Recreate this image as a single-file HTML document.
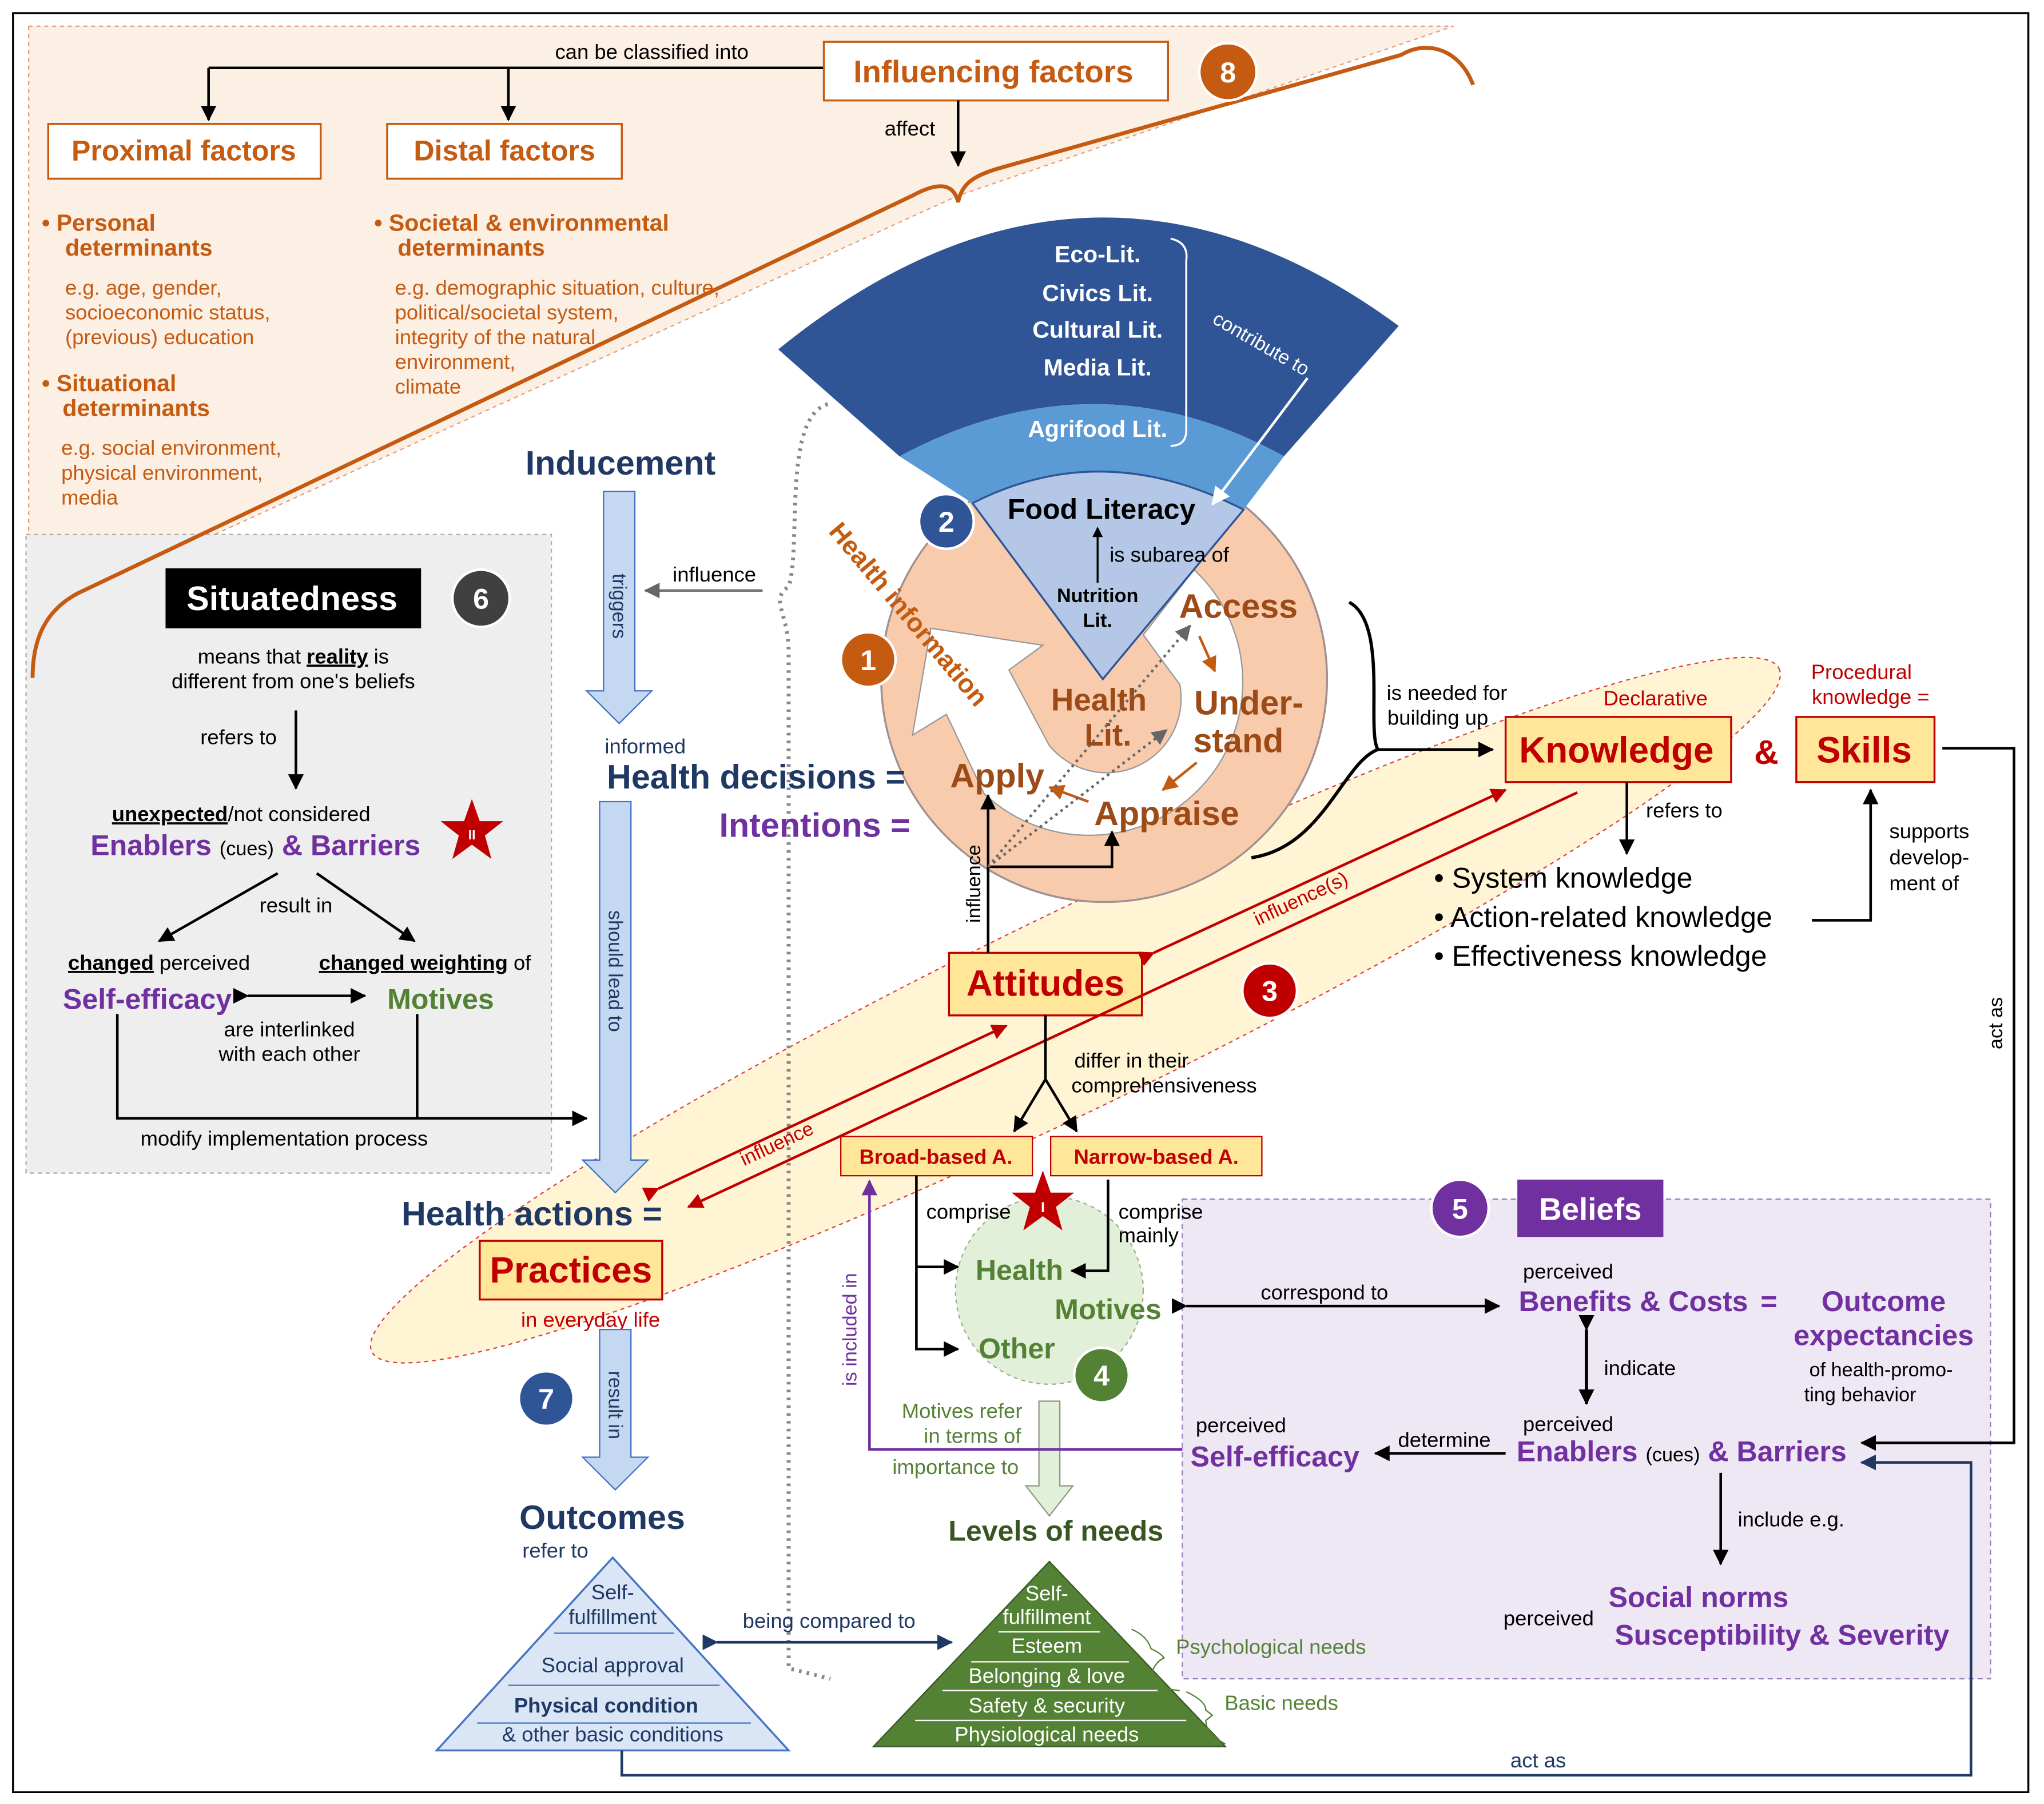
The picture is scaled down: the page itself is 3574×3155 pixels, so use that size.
<!DOCTYPE html>
<html><head><meta charset="utf-8">
<style>html,body{margin:0;padding:0;background:#fff}svg{display:block}</style></head>
<body>
<svg xmlns="http://www.w3.org/2000/svg" width="3574" height="3155" viewBox="0 0 1568 1384" font-family="Liberation Sans, sans-serif">
<defs>
<marker id="ak" markerWidth="8" markerHeight="8" refX="7" refY="4" orient="auto" markerUnits="userSpaceOnUse" viewBox="0 0 8 8"><path d="M0,0 L8,4 L0,8 Z" fill="#000"/></marker>
<marker id="ak2" markerWidth="12" markerHeight="12" refX="11" refY="6" orient="auto" markerUnits="userSpaceOnUse"><path d="M0,0 L12,6 L0,12 Z" fill="#000"/></marker>
<marker id="ar" markerWidth="12" markerHeight="12" refX="11" refY="6" orient="auto" markerUnits="userSpaceOnUse"><path d="M0,0 L12,6 L0,12 Z" fill="#c00000"/></marker>
<marker id="ao" markerWidth="12" markerHeight="12" refX="11" refY="6" orient="auto" markerUnits="userSpaceOnUse"><path d="M0,0 L12,6 L0,12 Z" fill="#c55a11"/></marker>
<marker id="ag" markerWidth="12" markerHeight="12" refX="11" refY="6" orient="auto" markerUnits="userSpaceOnUse"><path d="M0,0 L12,6 L0,12 Z" fill="#666"/></marker>
<marker id="aw" markerWidth="14" markerHeight="14" refX="13" refY="7" orient="auto" markerUnits="userSpaceOnUse"><path d="M0,0 L14,7 L0,14 Z" fill="#fff"/></marker>
<marker id="ap" markerWidth="12" markerHeight="12" refX="11" refY="6" orient="auto" markerUnits="userSpaceOnUse"><path d="M0,0 L12,6 L0,12 Z" fill="#7030a0"/></marker>
<marker id="ab" markerWidth="12" markerHeight="12" refX="11" refY="6" orient="auto" markerUnits="userSpaceOnUse"><path d="M0,0 L12,6 L0,12 Z" fill="#1f3864"/></marker>
</defs>
<rect x="10" y="10" width="1546" height="1365" fill="#fff" stroke="#000" stroke-width="1.5"/>
<polygon points="22,20 1115,20 735,150 22,475" fill="#fcefe4" stroke="#e0a080" stroke-dasharray="3,3"/>
<rect x="20" y="410" width="403" height="490" fill="#eeeeee" stroke="#aaa" stroke-dasharray="3,3"/>
<path d="M1130,65 C1120,38 1095,30 1075,42 L770,128 C748,134 738,140 735,155 C732,142 722,138 700,150 L60,455 C35,468 25,490 25,520" fill="none" stroke="#c55a11" stroke-width="3"/>
<rect x="907" y="920" width="620" height="368" fill="#eee7f4" stroke="#a080c0" stroke-dasharray="4,3"/>
<ellipse cx="825" cy="775" rx="600" ry="75" transform="rotate(-25.9 825 775)" fill="#fff2cc" fill-opacity="0.85" stroke="#e04040" stroke-dasharray="3,3"/>
<path d="M635,310 C600,320 615,420 605,450 C590,460 605,470 605,500 L605,1280 L637,1288" fill="none" stroke="#888" stroke-width="3" stroke-dasharray="2,4"/>
<!-- orange ring -->
<circle cx="847" cy="521" r="171" fill="#f8cbad" stroke="#a09090" stroke-width="1.5"/>
<path d="M916,437 A112,112 0 1 1 755,609 L726,548 L700,564 L714,482 L800,495 L774,514 L805,572 A57,57 0 0 0 905,525 L877,487 Z" fill="#fff" stroke="#999" stroke-width="1"/>
<!-- fan -->
<path d="M597,268 Q835,75 1073,250 L985,350 Q840,270 690,350 Z" fill="#2f5597"/>
<path d="M690,350 Q840,270 985,350 L954,391 Q846,335 746,386 Z" fill="#5b9bd5"/>
<path d="M746,386 Q846,335 954,391 L846,521 Z" fill="#b4c7e7" stroke="#2f5597" stroke-width="1.5"/>
<g fill="#fff" font-weight="bold" font-size="18" text-anchor="middle">
<text x="842" y="201">Eco-Lit.</text><text x="842" y="231">Civics Lit.</text><text x="842" y="259">Cultural Lit.</text><text x="842" y="288">Media Lit.</text><text x="842" y="335">Agrifood Lit.</text></g>
<path d="M898,183 Q912,186 910,200 L910,330 Q910,342 898,342" fill="none" stroke="#fff" stroke-width="1.5"/>
<text x="965" y="268" fill="#fff" font-size="15" text-anchor="middle" transform="rotate(30 965 268)">contribute to</text>
<line x1="1003" y1="290" x2="930" y2="387" stroke="#fff" stroke-width="2" marker-end="url(#aw)"/>
<text x="845" y="398" font-size="22" font-weight="bold" text-anchor="middle">Food Literacy</text>
<circle cx="726" cy="400" r="21" fill="#2f5597" stroke="#fff" stroke-width="2"/><text x="726" y="408" fill="#fff" font-size="22" font-weight="bold" text-anchor="middle">2</text>
<line x1="842" y1="447" x2="842" y2="405" stroke="#000" stroke-width="1.5" marker-end="url(#ak)"/>
<text x="897" y="431" font-size="16" text-anchor="middle">is subarea of</text>
<text x="842" y="462" font-size="15" font-weight="bold" text-anchor="middle">Nutrition</text><text x="842" y="481" font-size="15" font-weight="bold" text-anchor="middle">Lit.</text>
<text x="635" y="408" fill="#c55a11" font-size="20" font-weight="bold" transform="rotate(50 635 408)">Health information</text>
<circle cx="666" cy="506" r="21" fill="#c55a11" stroke="#fff" stroke-width="2"/><text x="666" y="514" fill="#fff" font-size="22" font-weight="bold" text-anchor="middle">1</text>
<g fill="#9c4a16" font-size="26" font-weight="bold" text-anchor="middle">
<text x="950" y="474">Access</text><text x="958" y="548">Under-</text><text x="950" y="577">stand</text>
<text x="843" y="545" font-size="24">Health</text><text x="850" y="572" font-size="24">Lit.</text>
<text x="765" y="604">Apply</text><text x="895" y="633">Appraise</text></g>
<line x1="920" y1="488" x2="932" y2="515" stroke="#c55a11" stroke-width="2" marker-end="url(#ao)"/>
<line x1="918" y1="585" x2="892" y2="606" stroke="#c55a11" stroke-width="2" marker-end="url(#ao)"/>
<line x1="835" y1="615" x2="805" y2="604" stroke="#c55a11" stroke-width="2" marker-end="url(#ao)"/>
<path d="M1035,462 C1065,478 1048,560 1057,575 C1030,585 1015,650 960,658" fill="none" stroke="#000" stroke-width="2.5"/>
<line x1="1057" y1="575" x2="1145" y2="575" stroke="#000" stroke-width="2" marker-end="url(#ak2)"/>
<text x="1110" y="537" font-size="16" text-anchor="middle">is needed for</text><text x="1103" y="556" font-size="16" text-anchor="middle">building up</text>
<rect x="1155" y="550" width="173" height="50" fill="#ffe699" stroke="#c00000" stroke-width="1.5"/>
<text x="1240" y="585" fill="#c00000" font-size="28" font-weight="bold" text-anchor="middle">Knowledge</text>
<text x="1270" y="541" fill="#c00000" font-size="16" text-anchor="middle">Declarative</text>
<text x="1355" y="586" fill="#c00000" font-size="26" font-weight="bold" text-anchor="middle">&amp;</text>
<rect x="1378" y="550" width="106" height="50" fill="#ffe699" stroke="#c00000" stroke-width="1.5"/>
<text x="1430" y="585" fill="#c00000" font-size="28" font-weight="bold" text-anchor="middle">Skills</text>
<text x="1428" y="521" fill="#c00000" font-size="16" text-anchor="middle">Procedural</text><text x="1435" y="540" fill="#c00000" font-size="16" text-anchor="middle">knowledge =</text>
<polyline points="1490,574 1545,574 1545,1107 1428,1107" fill="none" stroke="#000" stroke-width="2" marker-end="url(#ak2)"/>
<text x="1536" y="785" font-size="15" text-anchor="middle" transform="rotate(-90 1536 785)">act as</text>
<line x1="1248" y1="600" x2="1248" y2="655" stroke="#000" stroke-width="2" marker-end="url(#ak2)"/>
<text x="1292" y="627" font-size="16" text-anchor="middle">refers to</text>
<g font-size="22"><text x="1100" y="681">•  System knowledge</text><text x="1100" y="711">•  Action-related knowledge</text><text x="1100" y="741">•  Effectiveness  knowledge</text></g>
<polyline points="1390,706 1435,706 1435,606" fill="none" stroke="#000" stroke-width="2" marker-end="url(#ak2)"/>
<g font-size="16" text-anchor="middle"><text x="1480" y="643">supports</text><text x="1480" y="663">develop-</text><text x="1476" y="683">ment of</text></g>
<rect x="728" y="731" width="148" height="48" fill="#ffe699" stroke="#c00000" stroke-width="1.5"/>
<text x="802" y="764" fill="#c00000" font-size="28" font-weight="bold" text-anchor="middle">Attitudes</text>
<circle cx="974" cy="760" r="21" fill="#c00000" stroke="#fff" stroke-width="2"/><text x="974" y="768" fill="#fff" font-size="22" font-weight="bold" text-anchor="middle">3</text>
<line x1="885" y1="731" x2="1155" y2="606" stroke="#c00000" stroke-width="2" marker-start="url(#ar)" marker-end="url(#ar)"/>
<line x1="1210" y1="608" x2="528" y2="926" stroke="#c00000" stroke-width="2" marker-end="url(#ar)"/>
<line x1="505" y1="912" x2="772" y2="787" stroke="#c00000" stroke-width="2" marker-start="url(#ar)" marker-end="url(#ar)"/>
<text x="1000" y="694" fill="#c00000" font-size="15" text-anchor="middle" transform="rotate(-25 1000 694)">influence(s)</text>
<text x="598" y="882" fill="#c00000" font-size="15" text-anchor="middle" transform="rotate(-25 598 882)">influence</text>
<line x1="758" y1="731" x2="758" y2="610" stroke="#000" stroke-width="2" marker-end="url(#ak2)"/>
<text x="752" y="678" font-size="15" text-anchor="middle" transform="rotate(-90 752 678)">influence</text>
<polyline points="758,665 853,665 853,638" fill="none" stroke="#000" stroke-width="2" marker-end="url(#ak2)"/>
<line x1="758" y1="665" x2="913" y2="480" stroke="#666" stroke-width="2" stroke-dasharray="2,3" marker-end="url(#ag)"/>
<line x1="758" y1="665" x2="895" y2="560" stroke="#666" stroke-width="2" stroke-dasharray="2,3" marker-end="url(#ag)"/>
<text x="868" y="819" font-size="16" text-anchor="middle">differ in their</text><text x="893" y="838" font-size="16" text-anchor="middle">comprehensiveness</text>
<polyline points="802,779 802,828 778,868" fill="none" stroke="#000" stroke-width="2" marker-end="url(#ak2)"/>
<line x1="802" y1="828" x2="826" y2="868" stroke="#000" stroke-width="2" marker-end="url(#ak2)"/>
<rect x="645" y="872" width="147" height="30" fill="#ffe699" stroke="#c00000"/><text x="718" y="893" fill="#c00000" font-size="16" font-weight="bold" text-anchor="middle">Broad-based A.</text>
<rect x="806" y="872" width="162" height="30" fill="#ffe699" stroke="#c00000"/><text x="887" y="893" fill="#c00000" font-size="16" font-weight="bold" text-anchor="middle">Narrow-based A.</text>
<circle cx="805" cy="990" r="72" fill="#e2efd9" stroke="#9ab08a" stroke-dasharray="3,3"/>
<polygon points="800,898 806,915 824,915 810,926 815,944 800,933 785,944 790,926 776,915 794,915" fill="#c00000"/><text x="800" y="930" fill="#fff" font-size="11" font-weight="bold" text-anchor="middle">I</text>
<g fill="#548235" font-size="22" font-weight="bold" text-anchor="middle"><text x="782" y="982">Health</text><text x="850" y="1012">Motives</text><text x="780" y="1042">Other</text></g>
<circle cx="845" cy="1055" r="21" fill="#548235" stroke="#fff" stroke-width="2"/><text x="845" y="1063" fill="#fff" font-size="22" font-weight="bold" text-anchor="middle">4</text>
<text x="743" y="935" font-size="16" text-anchor="middle">comprise</text>
<polyline points="703,902 703,1035 735,1035" fill="none" stroke="#000" stroke-width="2" marker-end="url(#ak2)"/>
<line x1="703" y1="972" x2="735" y2="972" stroke="#000" stroke-width="2" marker-end="url(#ak2)"/>
<text x="858" y="935" font-size="16">comprise</text><text x="858" y="953" font-size="16">mainly</text>
<polyline points="850,905 850,975 822,975" fill="none" stroke="#000" stroke-width="2" marker-end="url(#ak2)"/>
<g fill="#548235" font-size="16" text-anchor="middle"><text x="738" y="1088">Motives refer</text><text x="746" y="1107">in terms of</text><text x="733" y="1131">importance to</text></g>
<path d="M797,1075 L813,1075 L813,1140 L823,1140 L805,1163 L787,1140 L797,1140 Z" fill="#e2efd9" stroke="#8a9a80"/>
<text x="810" y="1182" fill="#375623" font-size="22" font-weight="bold" text-anchor="middle">Levels of needs</text>
<polygon points="805,1198 670,1340 940,1340" fill="#548235" stroke="#385723"/>
<g stroke="#fff" stroke-width="1"><line x1="766" y1="1252" x2="844" y2="1252"/><line x1="745" y1="1275" x2="866" y2="1275"/><line x1="723" y1="1297" x2="888" y2="1297"/><line x1="702" y1="1320" x2="910" y2="1320"/></g>
<g fill="#fff" font-size="16" text-anchor="middle"><text x="803" y="1228">Self-</text><text x="803" y="1246">fulfillment</text><text x="803" y="1268">Esteem</text><text x="803" y="1291">Belonging &amp; love</text><text x="803" y="1314">Safety &amp; security</text><text x="803" y="1336">Physiological needs</text></g>
<path d="M868,1250 Q880,1255 883,1265 Q890,1268 893,1272 Q886,1275 883,1285 Q880,1295 905,1297" fill="none" stroke="#548235"/>
<path d="M910,1298 Q925,1305 925,1312 L930,1316 L925,1320 Q925,1330 940,1338" fill="none" stroke="#548235"/>
<text x="975" y="1269" fill="#548235" font-size="16" text-anchor="middle">Psychological needs</text>
<text x="983" y="1312" fill="#548235" font-size="16" text-anchor="middle">Basic needs</text>
<polygon points="470,1195 335,1343 605,1343" fill="#dae6f5" stroke="#4472c4" stroke-width="1.5"/>
<g stroke="#4472c4"><line x1="425" y1="1253" x2="517" y2="1253"/><line x1="390" y1="1293" x2="552" y2="1293"/><line x1="366" y1="1322" x2="576" y2="1322"/></g>
<g fill="#1f3864" font-size="16" text-anchor="middle"><text x="470" y="1227">Self-</text><text x="470" y="1246">fulfillment</text><text x="470" y="1283">Social approval</text><text x="465" y="1314" font-weight="bold">Physical condition</text><text x="470" y="1336">&amp; other basic conditions</text></g>
<text x="636" y="1249" fill="#1f3864" font-size="16" text-anchor="middle">being compared to</text>
<line x1="550" y1="1260" x2="730" y2="1260" stroke="#1f3864" stroke-width="2" marker-start="url(#ab)" marker-end="url(#ab)"/>
<text x="462" y="1173" fill="#1f3864" font-size="26" font-weight="bold" text-anchor="middle">Outcomes</text>
<text x="426" y="1195" fill="#1f3864" font-size="16" text-anchor="middle">refer to</text>
<circle cx="419" cy="1073" r="21" fill="#2f5597" stroke="#fff" stroke-width="2"/><text x="419" y="1081" fill="#fff" font-size="22" font-weight="bold" text-anchor="middle">7</text>
<text x="476" y="364" fill="#1f3864" font-size="26" font-weight="bold" text-anchor="middle">Inducement</text>
<path d="M463,377 L487,377 L487,530 L500,530 L475,555 L450,530 L463,530 Z" fill="#c5d8f1" stroke="#4472c4"/>
<text x="470" y="465" font-size="15" fill="#1f3864" text-anchor="middle" transform="rotate(90 470 465)">triggers</text>
<text x="548" y="446" font-size="16" text-anchor="middle">influence</text>
<line x1="585" y1="453" x2="495" y2="453" stroke="#777" stroke-width="2" marker-end="url(#ag)"/>
<text x="495" y="578" fill="#1f3864" font-size="16" text-anchor="middle">informed</text>
<text x="580" y="605" fill="#1f3864" font-size="26" font-weight="bold" text-anchor="middle">Health decisions =</text>
<text x="625" y="642" fill="#7030a0" font-size="26" font-weight="bold" text-anchor="middle">Intentions =</text>
<path d="M460,615 L484,615 L484,890 L497,890 L472,915 L447,890 L460,890 Z" fill="#c5d8f1" stroke="#4472c4"/>
<text x="467" y="745" font-size="15" fill="#1f3864" text-anchor="middle" transform="rotate(90 467 745)">should lead to</text>
<text x="408" y="940" fill="#1f3864" font-size="26" font-weight="bold" text-anchor="middle">Health actions =</text>
<rect x="368" y="952" width="140" height="45" fill="#ffe699" stroke="#c00000" stroke-width="1.5"/>
<text x="438" y="984" fill="#c00000" font-size="28" font-weight="bold" text-anchor="middle">Practices</text>
<text x="453" y="1018" fill="#c00000" font-size="16" text-anchor="middle">in everyday life</text>
<path d="M460,1020 L484,1020 L484,1118 L497,1118 L472,1143 L447,1118 L460,1118 Z" fill="#c5d8f1" stroke="#4472c4"/>
<text x="467" y="1078" font-size="15" fill="#1f3864" text-anchor="middle" transform="rotate(90 467 1078)">result in</text>
<line x1="632" y1="52" x2="160" y2="52" stroke="#000" stroke-width="2"/>
<line x1="160" y1="52" x2="160" y2="92" stroke="#000" stroke-width="2" marker-end="url(#ak2)"/>
<line x1="390" y1="52" x2="390" y2="92" stroke="#000" stroke-width="2" marker-end="url(#ak2)"/>
<text x="500" y="45" font-size="16" text-anchor="middle">can be classified into</text>
<rect x="632" y="32" width="264" height="45" fill="#fff" stroke="#c55a11" stroke-width="1.5"/>
<text x="762" y="63" fill="#c55a11" font-size="24" font-weight="bold" text-anchor="middle">Influencing factors</text>
<circle cx="942" cy="55" r="22" fill="#c55a11" stroke="#fff" stroke-width="2"/><text x="942" y="63" fill="#fff" font-size="22" font-weight="bold" text-anchor="middle">8</text>
<text x="698" y="104" font-size="16" text-anchor="middle">affect</text>
<line x1="735" y1="77" x2="735" y2="127" stroke="#000" stroke-width="2" marker-end="url(#ak2)"/>
<rect x="37" y="95" width="209" height="42" fill="#fff" stroke="#c55a11" stroke-width="1.5"/>
<text x="141" y="123" fill="#c55a11" font-size="22" font-weight="bold" text-anchor="middle">Proximal factors</text>
<rect x="297" y="95" width="180" height="42" fill="#fff" stroke="#c55a11" stroke-width="1.5"/>
<text x="387" y="123" fill="#c55a11" font-size="22" font-weight="bold" text-anchor="middle">Distal factors</text>
<g fill="#c55a11" font-size="18" font-weight="bold">
<text x="32" y="177">•  Personal</text><text x="50" y="196">determinants</text>
<text x="32" y="300">•  Situational</text><text x="48" y="319">determinants</text>
<text x="287" y="177">•  Societal &amp; environmental</text><text x="305" y="196">determinants</text></g>
<g fill="#c55a11" font-size="16">
<text x="50" y="226">e.g. age, gender,</text><text x="50" y="245">socioeconomic status,</text><text x="50" y="264">(previous) education</text>
<text x="47" y="349">e.g. social environment,</text><text x="47" y="368">physical environment,</text><text x="47" y="387">media</text>
<text x="303" y="226">e.g. demographic situation, culture,</text><text x="303" y="245">political/societal system,</text><text x="303" y="264">integrity of the natural</text><text x="303" y="283">environment,</text><text x="303" y="302">climate</text></g>
<rect x="127" y="436" width="196" height="46" fill="#000"/>
<text x="224" y="468" fill="#fff" font-size="26" font-weight="bold" text-anchor="middle">Situatedness</text>
<circle cx="369" cy="459" r="22" fill="#404040" stroke="#fff" stroke-width="2"/><text x="369" y="467" fill="#fff" font-size="22" font-weight="bold" text-anchor="middle">6</text>
<text x="225" y="509" font-size="16" text-anchor="middle">means that <tspan font-weight="bold" text-decoration="underline">reality</tspan> is</text>
<text x="225" y="528" font-size="16" text-anchor="middle">different from one's beliefs</text>
<text x="183" y="571" font-size="16" text-anchor="middle">refers to</text>
<line x1="227" y1="545" x2="227" y2="605" stroke="#000" stroke-width="2" marker-end="url(#ak2)"/>
<text x="185" y="630" font-size="16" text-anchor="middle"><tspan font-weight="bold" text-decoration="underline">unexpected</tspan>/not considered</text>
<text x="196" y="656" fill="#7030a0" font-size="22" font-weight="bold" text-anchor="middle">Enablers <tspan font-size="15" font-weight="normal" fill="#000">(cues)</tspan> &amp; Barriers</text>
<polygon points="362,613 368,630 386,630 372,641 377,659 362,648 347,659 352,641 338,630 356,630" fill="#c00000"/><text x="362" y="644" fill="#fff" font-size="10" font-weight="bold" text-anchor="middle">II</text>
<text x="227" y="700" font-size="16" text-anchor="middle">result in</text>
<line x1="213" y1="670" x2="122" y2="722" stroke="#000" stroke-width="2" marker-end="url(#ak2)"/>
<line x1="243" y1="670" x2="318" y2="722" stroke="#000" stroke-width="2" marker-end="url(#ak2)"/>
<text x="122" y="744" font-size="16" text-anchor="middle"><tspan font-weight="bold" text-decoration="underline">changed</tspan> perceived</text>
<text x="326" y="744" font-size="16" text-anchor="middle"><tspan font-weight="bold" text-decoration="underline">changed weighting</tspan> of</text>
<text x="113" y="774" fill="#7030a0" font-size="22" font-weight="bold" text-anchor="middle">Self-efficacy</text>
<text x="338" y="774" fill="#548235" font-size="22" font-weight="bold" text-anchor="middle">Motives</text>
<line x1="190" y1="764" x2="280" y2="764" stroke="#000" stroke-width="2" marker-start="url(#ak2)" marker-end="url(#ak2)"/>
<text x="222" y="795" font-size="16" text-anchor="middle">are interlinked</text><text x="222" y="814" font-size="16" text-anchor="middle">with each other</text>
<polyline points="90,778 90,858 450,858" fill="none" stroke="#000" stroke-width="2" marker-end="url(#ak2)"/>
<line x1="320" y1="778" x2="320" y2="858" stroke="#000" stroke-width="2"/>
<text x="218" y="879" font-size="16" text-anchor="middle">modify implementation process</text>
<circle cx="1120" cy="927" r="22" fill="#7030a0" stroke="#fff" stroke-width="2"/><text x="1120" y="935" fill="#fff" font-size="22" font-weight="bold" text-anchor="middle">5</text>
<rect x="1164" y="905" width="112" height="44" fill="#7030a0"/><text x="1220" y="936" fill="#fff" font-size="24" font-weight="bold" text-anchor="middle">Beliefs</text>
<text x="1016" y="997" font-size="16" text-anchor="middle">correspond to</text>
<line x1="910" y1="1002" x2="1150" y2="1002" stroke="#000" stroke-width="2" marker-start="url(#ak2)" marker-end="url(#ak2)"/>
<text x="1203" y="981" font-size="16" text-anchor="middle">perceived</text>
<g fill="#7030a0" font-size="22" font-weight="bold" text-anchor="middle"><text x="1253" y="1006">Benefits &amp; Costs</text><text x="1357" y="1006">=</text><text x="1445" y="1006">Outcome</text><text x="1445" y="1032">expectancies</text></g>
<text x="1443" y="1056" font-size="15" text-anchor="middle">of health-promo-</text><text x="1427" y="1075" font-size="15" text-anchor="middle">ting behavior</text>
<line x1="1217" y1="1020" x2="1217" y2="1077" stroke="#000" stroke-width="2.5" marker-start="url(#ak2)" marker-end="url(#ak2)"/>
<text x="1258" y="1055" font-size="16" text-anchor="middle">indicate</text>
<text x="1203" y="1098" font-size="16" text-anchor="middle">perceived</text>
<text x="1290" y="1121" fill="#7030a0" font-size="22" font-weight="bold" text-anchor="middle">Enablers <tspan font-size="15" font-weight="normal" fill="#000">(cues)</tspan> &amp; Barriers</text>
<text x="1108" y="1110" font-size="16" text-anchor="middle">determine</text>
<line x1="1155" y1="1115" x2="1055" y2="1115" stroke="#000" stroke-width="2" marker-end="url(#ak2)"/>
<text x="952" y="1099" font-size="16" text-anchor="middle">perceived</text>
<text x="978" y="1125" fill="#7030a0" font-size="22" font-weight="bold" text-anchor="middle">Self-efficacy</text>
<polyline points="907,1112 667,1112 667,906" fill="none" stroke="#7030a0" stroke-width="2" marker-end="url(#ap)"/>
<text x="657" y="1020" fill="#7030a0" font-size="15" text-anchor="middle" transform="rotate(-90 657 1020)">is included in</text>
<line x1="1320" y1="1130" x2="1320" y2="1200" stroke="#000" stroke-width="2" marker-end="url(#ak2)"/>
<text x="1374" y="1171" font-size="16" text-anchor="middle">include e.g.</text>
<text x="1188" y="1247" font-size="16" text-anchor="middle">perceived</text>
<text x="1303" y="1233" fill="#7030a0" font-size="22" font-weight="bold" text-anchor="middle">Social norms</text>
<text x="1367" y="1262" fill="#7030a0" font-size="22" font-weight="bold" text-anchor="middle">Susceptibility  &amp; Severity</text>
<polyline points="477,1343 477,1362 1512,1362 1512,1122 1428,1122" fill="none" stroke="#1f3864" stroke-width="2" marker-end="url(#ab)"/>
<text x="1180" y="1356" fill="#1f3864" font-size="16" text-anchor="middle">act as</text>
</svg>
</body></html>
